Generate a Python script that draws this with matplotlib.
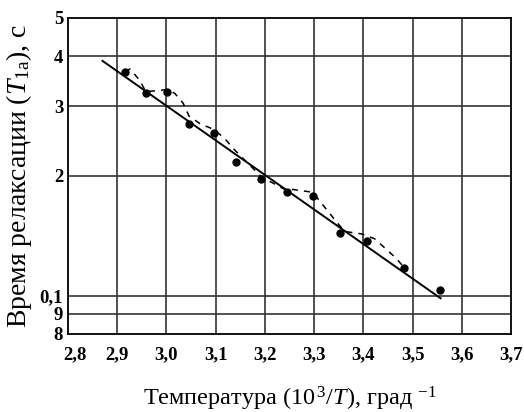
import matplotlib
matplotlib.use("Agg")
import matplotlib.pyplot as plt
import matplotlib.transforms as mtransforms

plt.rcParams['font.family'] = ['Liberation Serif', 'DejaVu Serif']
plt.rcParams['mathtext.fontset'] = 'custom'
plt.rcParams['mathtext.rm'] = 'Liberation Serif'
plt.rcParams['mathtext.it'] = 'Liberation Serif:italic'
plt.rcParams['mathtext.bf'] = 'Liberation Serif:bold'

# measured points
pts_x = [2.916, 2.958, 3.001, 3.046, 3.096, 3.142, 3.193, 3.244, 3.298, 3.352, 3.407, 3.482, 3.555]
pts_y = [3.66, 3.24, 3.26, 2.70, 2.56, 2.17, 1.97, 1.82, 1.78, 1.435, 1.375, 1.17, 1.03]

# fitted straight line (end points)
fit_x = [2.870, 3.557]
fit_y = [3.90, 0.984]

# dashed curve
dash_x = [2.916, 2.926, 2.946, 2.958, 3.001, 3.017, 3.034, 3.046, 3.068, 3.096, 3.118, 3.135,
          3.193, 3.244, 3.257, 3.297, 3.346, 3.362, 3.396, 3.423, 3.467, 3.482]
dash_y = [3.66, 3.72, 3.48, 3.26, 3.30, 3.23, 3.05, 2.83, 2.71, 2.62, 2.49, 2.35,
          1.99, 1.84, 1.85, 1.82, 1.53, 1.45, 1.43, 1.39, 1.24, 1.18]

x_ticks = [2.8, 2.9, 3.0, 3.1, 3.2, 3.3, 3.4, 3.5, 3.6, 3.7]
x_labels = ["2,8", "2,9", "3,0", "3,1", "3,2", "3,3", "3,4", "3,5", "3,6", "3,7"]
y_ticks = [5, 4, 3, 2, 1, 0.9, 0.8]
y_labels = ["5", "4", "3", "2", "0,1", "9", "8"]

fig = plt.figure(figsize=(5.24, 4.12), dpi=100)
ax = fig.add_axes([68/524, 1-334/412, (511-68)/524, (334-18)/412])
ax.set_yscale('log')
ax.set_xlim(2.8, 3.7)
ax.set_ylim(0.8, 5)

for xv in x_ticks[1:-1]:
    ax.axvline(xv, color='#333333', lw=1.2, zorder=1)
for yv in y_ticks[1:-1]:
    ax.axhline(yv, color='#333333', lw=1.2, zorder=1)

ax.plot(fit_x, fit_y, color='black', lw=1.4, zorder=3)
ax.plot(dash_x, dash_y, color='black', lw=1.1, dashes=(4, 4), zorder=3)
ax.plot(pts_x, pts_y, 'o', color='black', ms=5, zorder=4)

ax.set_xticks(x_ticks)
ax.set_xticklabels(x_labels, fontweight='bold', fontsize=13.5)
ax.set_yticks(y_ticks)
ax.set_yticklabels(y_labels, fontweight='bold', fontsize=13.5)
ax.yaxis.set_minor_locator(matplotlib.ticker.NullLocator())
ax.tick_params(axis='x', length=0, pad=9)
ax.tick_params(axis='y', length=0, pad=3.5)
# first x label sits slightly to the right in the original
lbl0 = ax.get_xticklabels()[0]
lbl0.set_transform(lbl0.get_transform() + mtransforms.ScaledTranslation(7/100, 0, fig.dpi_scale_trans))
for s in ax.spines.values():
    s.set_linewidth(1.3)
    s.set_color('black')

ax.set_ylabel("Время релаксации ($\\mathit{T}_{\\rm 1a}$), с", fontsize=20, labelpad=4)
ax.set_xlabel("Температура (10$^{\\,3}$/$\\mathit{T}$), град $^{-1}$", fontsize=17.5, labelpad=15)

fig.savefig("out.png", dpi=100)
